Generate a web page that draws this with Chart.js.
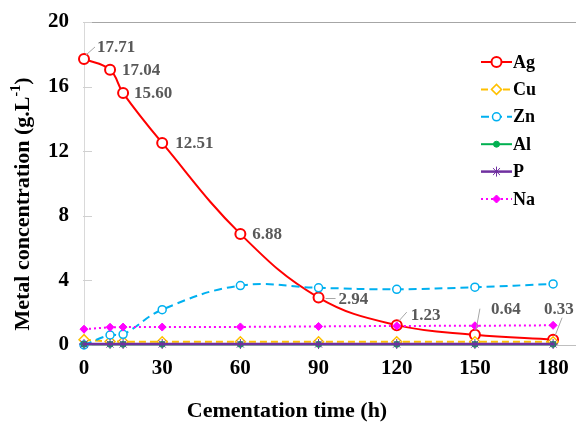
<!DOCTYPE html>
<html><head><meta charset="utf-8">
<script src="https://cdn.jsdelivr.net/npm/chart.js@4"></script>
<style>html,body{margin:0;padding:0;background:#fff;}#wrap{width:576px;height:423px;}</style>
</head><body><div id="wrap"><canvas id="c" width="576" height="423"></canvas></div>
<script>
const times = [0, 10, 15, 30, 60, 90, 120, 150, 180];
const xTicks = [0, 30, 60, 90, 120, 150, 180];
const yTicks = [0, 4, 8, 12, 16, 20];
const ag = [17.71, 17.04, 15.60, 12.51, 6.88, 2.94, 1.23, 0.64, 0.33];
const cu = [0.33, 0.22, 0.2, 0.2, 0.2, 0.2, 0.2, 0.2, 0.2];
const zn = [0.0, 0.62, 0.66, 2.19, 3.68, 3.54, 3.45, 3.58, 3.78];
const al = [0.04, 0.04, 0.04, 0.04, 0.04, 0.04, 0.04, 0.04, 0.04];
const p  = [0.06, 0.06, 0.06, 0.06, 0.06, 0.06, 0.06, 0.06, 0.06];
const na = [0.98, 1.1, 1.11, 1.11, 1.12, 1.15, 1.18, 1.19, 1.22];
const agLabels = ["17.71", "17.04", "15.60", "12.51", "6.88", "2.94", "1.23", "0.64", "0.33"];
const xTitle = "Cementation time (h)";
const yTitleMain = "Metal concentration (g.L";
const yTitleSup = "-1";
const yTitleEnd = ")";

const labelOffsets = [[13,-11],[12,1],[11,1],[13,1],[12,1],[20,2],[14,-10],[16,-25],[-9,-30]];
const leaders = [[2,-4,11,-12],null,null,null,null,[7,1,17,1],[2,-4,10,-13],[1,-4,5,-26],[2,-4,9,-22]];

const toXY = arr => arr.map((v,i)=>({x:times[i], y:v}));
const SERIF = '"Liberation Serif","Times New Roman",serif';

const series = [
  {label:'Ag', data:toXY(ag), borderColor:'#FF0000', backgroundColor:'#FFFFFF', borderWidth:2, pointStyle:'circle', pointRadius:5, pointBorderWidth:2, tension:0.4, dash:[], order:6},
  {label:'Cu', data:toXY(cu), borderColor:'#FFC000', backgroundColor:'#FFFFFF', borderWidth:2, pointStyle:'rectRot', pointRadius:5, pointBorderWidth:1.5, tension:0, dash:[7,4], order:5},
  {label:'Zn', data:toXY(zn), borderColor:'#00B0F0', backgroundColor:'#FFFFFF', borderWidth:2, pointStyle:'circle', pointRadius:4, pointBorderWidth:1.5, tension:0.4, dash:[8,5], order:4},
  {label:'Al', data:toXY(al), borderColor:'#00B050', backgroundColor:'#00B050', borderWidth:2, pointStyle:'circle', pointRadius:3, pointBorderWidth:1, tension:0, dash:[], order:3},
  {label:'P', data:toXY(p), borderColor:'#7030A0', backgroundColor:'#7030A0', borderWidth:2.5, pointStyle:'star', pointRadius:5, pointBorderWidth:1, tension:0, dash:[], order:2},
  {label:'Na', data:toXY(na), borderColor:'#FF00FF', backgroundColor:'#FF00FF', borderWidth:2, pointStyle:'rectRot', pointRadius:4, pointBorderWidth:1, tension:0, dash:[2,3], order:1}
];

const datasets = series.map(s=>({
  label:s.label, data:s.data, borderColor:s.borderColor, backgroundColor:s.backgroundColor,
  borderWidth:s.borderWidth, borderDash:s.dash, pointStyle:s.pointStyle, pointRadius:s.pointRadius,
  pointBorderColor:s.borderColor, pointBackgroundColor:s.backgroundColor, pointBorderWidth:s.pointBorderWidth,
  tension:s.tension, order:s.order, fill:false, clip:false
}));

const extras = {
  id:'extras',
  beforeDatasetsDraw(chart){
    const ctx = chart.ctx;
    const ys = chart.scales.y, xs = chart.scales.x;
    ctx.save();
    ctx.lineWidth = 1;
    // extend top gridline and bottom axis to the right edge
    const pt = Math.round(ys.getPixelForValue(20))+0.5;
    ctx.strokeStyle = '#a6a6a6';
    ctx.beginPath(); ctx.moveTo(xs.right-1, pt); ctx.lineTo(chart.width, pt); ctx.stroke();
    const pb = Math.round(ys.getPixelForValue(0))+0.5;
    ctx.strokeStyle = '#bfbfbf';
    ctx.beginPath(); ctx.moveTo(xs.right-1, pb); ctx.lineTo(chart.width, pb); ctx.stroke();
    // inward y tick marks
    ctx.strokeStyle = '#d0d0d0';
    yTicks.forEach(v=>{ const py = Math.round(ys.getPixelForValue(v))+0.5;
      ctx.beginPath(); ctx.moveTo(xs.left-1, py); ctx.lineTo(xs.left+8, py); ctx.stroke(); });
    ctx.restore();
  },
  afterDraw(chart){
    const ctx = chart.ctx;
    const meta = chart.getDatasetMeta(0);
    ctx.save();
    ctx.font = 'bold 17px ' + SERIF;
    ctx.fillStyle = '#595959';
    ctx.textBaseline = 'middle';
    ctx.strokeStyle = '#a6a6a6'; ctx.lineWidth = 1;
    meta.data.forEach((pt,i)=>{
      const o = labelOffsets[i];
      ctx.fillText(agLabels[i], pt.x + o[0], pt.y + o[1]);
      const l = leaders[i];
      if (l){ ctx.beginPath(); ctx.moveTo(pt.x+l[0], pt.y+l[1]); ctx.lineTo(pt.x+l[2], pt.y+l[3]); ctx.stroke(); }
    });
    ctx.restore();
    ctx.save();
    const lx0 = 481, lx1 = 512, ly0 = 62, step = 27.4;
    series.forEach((s,i)=>{
      const y = ly0 + i*step;
      ctx.strokeStyle = s.borderColor; ctx.lineWidth = s.borderWidth;
      ctx.setLineDash(s.dash);
      ctx.beginPath(); ctx.moveTo(lx0, y); ctx.lineTo(lx1, y); ctx.stroke();
      ctx.setLineDash([]);
      ctx.fillStyle = s.backgroundColor; ctx.strokeStyle = s.borderColor; ctx.lineWidth = s.pointBorderWidth;
      Chart.helpers.drawPoint(ctx, {pointStyle:s.pointStyle, radius:s.pointRadius, borderWidth:s.pointBorderWidth}, (lx0+lx1)/2, y);
      ctx.fillStyle = '#000'; ctx.font = 'bold 18px ' + SERIF; ctx.textBaseline = 'middle';
      ctx.fillText(s.label, lx1 + 1, y + 1);
    });
    ctx.restore();
    ctx.save();
    ctx.fillStyle = '#000';
    ctx.textBaseline = 'middle';
    ctx.font = 'bold 22px ' + SERIF;
    ctx.textAlign = 'center';
    ctx.fillText(xTitle, 287, 411);
    ctx.translate(23, 204);
    ctx.rotate(-Math.PI/2);
    ctx.textAlign = 'left';
    const fMain = 'bold 22px ' + SERIF, fSup = 'bold 14px ' + SERIF;
    ctx.font = fMain; const w1 = ctx.measureText(yTitleMain).width; const w3 = ctx.measureText(yTitleEnd).width;
    ctx.font = fSup; const w2 = ctx.measureText(yTitleSup).width;
    let x = -(w1+w2+w3)/2;
    ctx.font = fMain; ctx.fillText(yTitleMain, x, 0); x += w1;
    ctx.font = fSup; ctx.fillText(yTitleSup, x, -7); x += w2;
    ctx.font = fMain; ctx.fillText(yTitleEnd, x, 0);
    ctx.restore();
  }
};

new Chart(document.getElementById('c'), {
  type:'line',
  data:{datasets},
  options:{
    responsive:false, animation:false, devicePixelRatio:1,
    layout:{padding:{top:22, right:0, left:0, bottom:0}},
    plugins:{legend:{display:false}, tooltip:{enabled:false}},
    scales:{
      x:{type:'linear', min:0, max:186.1,
        afterBuildTicks(sc){ sc.ticks = xTicks.map(v=>({value:v})); },
        afterFit(sc){ sc.height = 78; sc.paddingLeft = 0; sc.paddingRight = 0; },
        grid:{display:true, drawOnChartArea:false, drawTicks:true, tickLength:11, tickColor:'rgba(0,0,0,0)', color:'rgba(0,0,0,0)'},
        border:{display:true, color:'#bfbfbf', width:1},
        ticks:{padding:0, color:'#000', font:{family:SERIF, size:21, weight:'bold'}, maxRotation:0, autoSkip:false},
        title:{display:false}
      },
      y:{type:'linear', min:0, max:20,
        afterBuildTicks(sc){ sc.ticks = yTicks.map(v=>({value:v})); },
        afterFit(sc){ sc.width = 84; sc.paddingTop = 0; sc.paddingBottom = 0; },
        grid:{drawTicks:false, color:(c)=> c.tick && c.tick.value===20 ? '#a6a6a6' : 'rgba(0,0,0,0)', lineWidth:1},
        border:{display:true, color:'#d9d9d9', width:1},
        ticks:{padding:15, color:'#000', font:{family:SERIF, size:21, weight:'bold'}},
        title:{display:false}
      }
    }
  },
  plugins:[extras]
});
</script></body></html>
